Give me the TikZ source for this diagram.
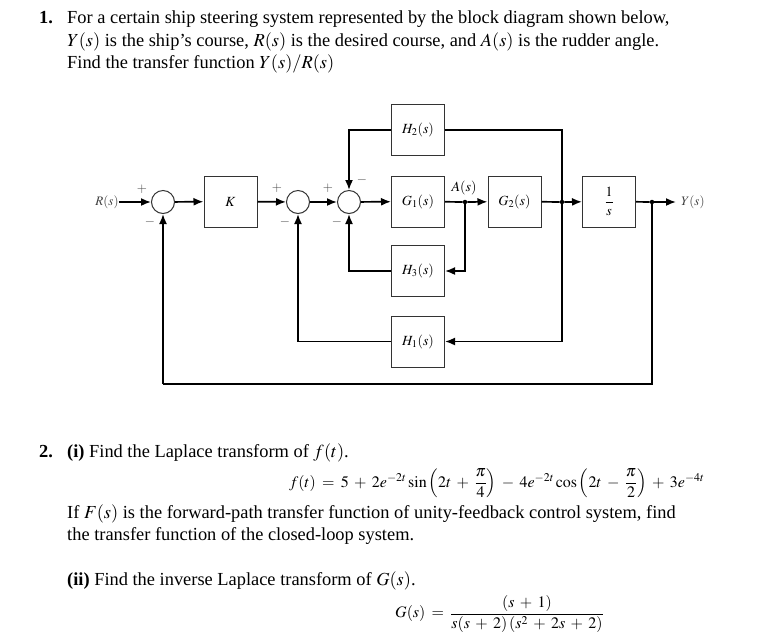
\documentclass[tikz,border=0pt]{standalone}
\usepackage{amsmath}
\usepackage{mathptmx}
\usepackage[no-math]{fontspec}
\setmainfont{Liberation Serif}
\usetikzlibrary{arrows.meta}
\newcommand{\wideops}{\medmuskip=6mu plus 2mu\thickmuskip=7mu plus 2mu}
\begin{document}
\begin{tikzpicture}[x=1pt,y=-1pt,
  blk/.style={draw=black!80, line width=1pt, minimum width=53pt, minimum height=51pt, inner sep=0pt, font=\fontsize{14}{16}\selectfont},
  sumc/.style={draw=black!80, circle, line width=1pt, minimum size=23pt, inner sep=0pt},
  sig/.style={line width=1.7pt},
  arr/.style={line width=1.7pt, -{Latex[length=10pt,width=8pt]}},
  jdot/.style={circle, fill=black, minimum size=4.5pt, inner sep=0pt},
  sgn/.style={font=\fontsize{13}{13}\selectfont, text=black!70, inner sep=0pt},
  lbl/.style={font=\fontsize{13}{13}\selectfont, text=black!75, inner sep=0pt},
  txt/.style={anchor=base west, inner sep=0pt, font=\fontsize{18.4}{22}\selectfont},
  eqn/.style={inner sep=0pt, font=\fontsize{16}{16}\selectfont\wideops},
]
\useasboundingbox (0,0) rectangle (783,638);

% ---------- Question 1 text ----------
\node[txt] (n1) at (39,23) {\textbf{1.}};
\node[txt] (l1) at (67,23) {For a certain ship steering system represented by the block diagram shown below,};
\node[txt] (l2) at (67,46) {$Y(s)$ is the ship’s course, $R(s)$ is the desired course, and $A(s)$ is the rudder angle.};
\node[txt] (l3) at (67,68) {Find the transfer function $Y(s)/R(s)$};

% ---------- Block diagram ----------
\node[lbl] (R) at (107,202) {$R(s)$};
\node[sumc] (s1) at (163,202) {};
\node[blk] (K) at (230.5,201.5) {$K$};
\node[sumc] (s2) at (298,202) {};
\node[sumc] (s3) at (349,202) {};
\node[blk] (G1) at (418,201.5) {$G_1(s)$};
\node[blk] (G2) at (514.5,201.5) {$G_2(s)$};
\node[blk] (I) at (609,201.5) {$\dfrac{1}{s}$};
\node[blk] (H2) at (418,130) {$H_2(s)$};
\node[blk] (H3) at (418,271) {$H_3(s)$};
\node[blk] (H1) at (418,341.5) {$H_1(s)$};
\node[jdot] (jA) at (465,202) {};
\node[jdot] (jB) at (562,202) {};
\node[jdot] (jY) at (652,202) {};
\coordinate (Yend) at (676,202);
\node[lbl, anchor=west] (Y) at (681,202) {$Y(s)$};
\node[inner sep=0pt, font=\fontsize{14}{14}\selectfont] (A) at (464,188) {$A(s)$};
\coordinate (bl) at (163,384);

\draw[arr] (R) -- (s1);
\draw[arr] (s1) -- (K);
\draw[arr] (K) -- (s2);
\draw[arr] (s2) -- (s3);
\draw[arr] (s3) -- (G1);
\draw[sig] (G1) -- (jA);
\draw[arr] (jA) -- (G2);
\draw[sig] (G2) -- (jB);
\draw[arr] (jB) -- (I);
\draw[sig] (I) -- (jY);
\draw[arr] (jY) -- (Yend);
\draw[sig] (jB) |- (H2.east);
\draw[arr] (H2.west) -| (s3.north);
\draw[arr] (jA) |- (H3.east);
\draw[arr] (H3.west) -| (s3.south);
\draw[arr] (jB) |- (H1.east);
\draw[arr] (H1.west) -| (s2.south);
\draw[sig] (jY) |- (bl);
\draw[arr] (bl) -- (s1.south);

% signs
\node[sgn] (p1) at (142,189) {$+$};
\node[sgn] (m1) at (150,222) {$-$};
\node[sgn] (p2) at (277,188) {$+$};
\node[sgn] (m2) at (285,222) {$-$};
\node[sgn] (p3) at (328,188) {$+$};
\node[sgn] (m3) at (337,222) {$-$};
\node[sgn] (m4) at (362,180) {$-$};

% ---------- Question 2 text ----------
\node[txt] (n2) at (39,457) {\textbf{2.}};
\node[txt] (q2a) at (67,457) {\textbf{(i)} Find the Laplace transform of $f(t)$.};
\node[eqn, anchor=base west] (f) at (289,487) {$f(t)=5+2e^{-2t}\sin\left(2t+\dfrac{\pi}{4}\right)-4e^{-2t}\cos\left(2t-\dfrac{\pi}{2}\right)+3e^{-4t}$};
\node[txt] (q2b) at (67,518) {If $F(s)$ is the forward-path transfer function of unity-feedback control system, find};
\node[txt] (q2c) at (67,540) {the transfer function of the closed-loop system.};
\node[txt] (q2d) at (67,585) {\textbf{(ii)} Find the inverse Laplace transform of $G(s)$.};
\node[eqn, anchor=west] (g) at (395,614) {$G(s)=\dfrac{(s+1)}{s(s+2)\,(s^2+2s+2)}$};
\end{tikzpicture}
\end{document}
